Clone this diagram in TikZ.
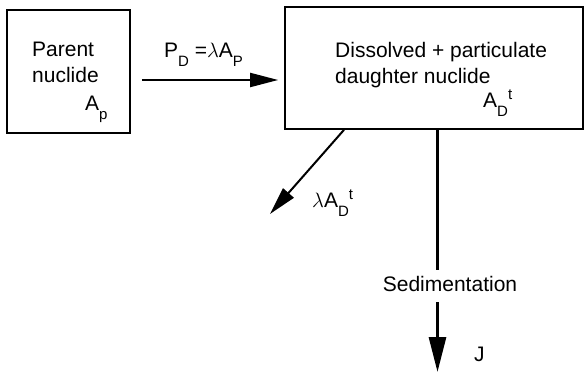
\documentclass[tikz,border=0pt]{standalone}
\usepackage{fontspec}
\setmainfont{Liberation Sans}
\usetikzlibrary{arrows.meta}

% lowered / raised indices in the text font
\newcommand{\lo}[1]{\raisebox{-0.75ex}{\fontsize{15}{15}\selectfont #1}}
\newcommand{\hi}[1]{\raisebox{0.75ex}{\fontsize{15}{15}\selectfont #1}}

\begin{document}
\begin{tikzpicture}[x=1pt,y=-1pt,
  font=\fontsize{21}{26}\selectfont,
  box/.style={draw, line width=1.7pt, inner sep=0pt},
  txt/.style={anchor=base west, inner sep=0pt},
  flow/.style={line width=2pt, -{Triangle[length=28pt,width=14pt]}},
  sink/.style={line width=3pt, -{Triangle[length=35pt,width=17pt]}},
]
\useasboundingbox (0,0) rectangle (584,374);
% the two compartments
\node[box, minimum width=123pt, minimum height=123pt] (parent) at (68.5,71.5) {};
\node[box, minimum width=298pt, minimum height=122pt] (daughter) at (434,68) {};
\node[anchor=north west, align=left, inner sep=0pt] (parentname) at (32,42) {Parent\\nuclide};
\node[txt] (ap) at (85,111) {A\lo{p}};
\node[anchor=north west, align=left, inner sep=0pt] (daughtername) at (335,42)
  {Dissolved + particulate\\daughter nuclide};
\node[txt] (adt) at (483,108) {A\lo{D}\hi{t}};
% production
\draw[flow] ([shift={(11,8.5)}]parent.east) -- ([shift={(-6,12)}]daughter.west);
\node[txt] (pd) at (164,58) {P\lo{D} =$\lambda$A\lo{P}};
% decay
\coordinate (decay) at (270,214);
\draw[flow] ([xshift=-90pt]daughter.south) -- (decay);
\node[txt] (lad) at (312,208) {$\lambda$A\lo{D}\hi{t}};
% sedimentation
\node[anchor=base, inner sep=0pt] (sed) at (450,291) {Sedimentation};
\draw[line width=3pt, shorten >=6pt] ([xshift=3.5pt]daughter.south) -- ([xshift=3.5pt]daughter.south |- sed.north);
\coordinate (bottom) at (437.5,372);
\draw[sink] ([shift={(-12.5,11)}]sed.south) -- (bottom);
\node[txt] (flux) at (474,361) {J};
\end{tikzpicture}
\end{document}
